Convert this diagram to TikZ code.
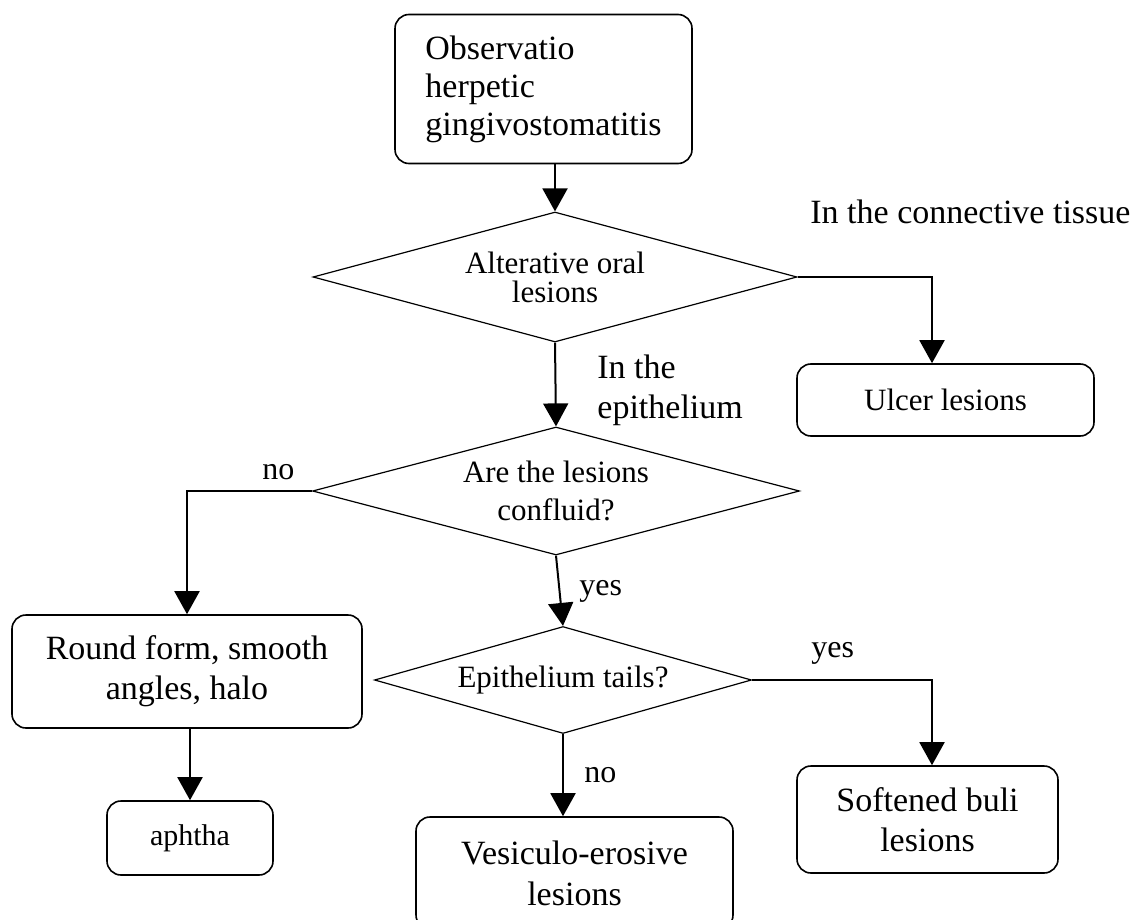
\documentclass[tikz,border=0pt]{standalone}
\usepackage{fontspec}
\setmainfont{Liberation Serif}
\usetikzlibrary{shapes.geometric,arrows.meta}

\begin{document}
\begin{tikzpicture}[x=0.5pt,y=-0.5pt,
	font=\fontsize{16}{19.5}\selectfont,
	stepbox/.style={draw,line width=0.8pt,rounded corners=7pt,inner sep=0pt,align=center},
	decision/.style={draw,diamond,line width=0.6pt,aspect=3.5,inner sep=0pt,align=center},
	lbl/.style={inner sep=0pt},
	flow/.style={line width=1pt,-{Triangle[length=11.5pt,width=12.5pt]}}]
	
	\useasboundingbox (0,0) rectangle (1135,920);
	
	\node[stepbox,align=left,minimum width=148.5pt,minimum height=74.5pt,font=\fontsize{17}{19}\selectfont]
		(obs) at (543.5,89) {Observatio\\herpetic\\gingivostomatitis};
	\node[decision,minimum width=242pt,minimum height=65pt,
		font=\fontsize{15.5}{14.5}\selectfont] (alter) at (555,277) {Alterative oral\\lesions};
	\node[stepbox,minimum width=148.5pt,minimum height=36pt,font=\fontsize{15.5}{19}\selectfont]
		(ulcer) at (945.5,400) {Ulcer lesions};
	\node[decision,minimum width=243.5pt,minimum height=64pt,font=\fontsize{15.5}{19}\selectfont]
		(confl) at (556,491) {Are the lesions\\confluid?};
	\node[stepbox,minimum width=175pt,minimum height=56.5pt,font=\fontsize{17}{20}\selectfont]
		(round) at (187,671.5) {Round form, smooth\\angles, halo};
	\node[decision,minimum width=188.5pt,minimum height=53.5pt,font=\fontsize{15.5}{19}\selectfont]
		(tails) at (563,680) {Epithelium tails?};
	\node[stepbox,minimum width=83pt,minimum height=37pt,font=\fontsize{15}{19}\selectfont]
		(aphtha) at (190,838) {aphtha};
	\node[stepbox,minimum width=130.5pt,minimum height=53.5pt,font=\fontsize{17}{20}\selectfont]
		(soft) at (927.5,819.5) {Softened buli\\lesions};
	\node[stepbox,minimum width=158.5pt,minimum height=56pt,font=\fontsize{17}{20.5}\selectfont]
		(vesic) at (574.5,873) {Vesiculo-erosive\\lesions};
	
	\node[lbl,anchor=base west,font=\fontsize{17}{20}\selectfont] (conn) at (810,223) {In the connective tissue};
	\node[lbl,anchor=north west,align=left,font=\fontsize{17}{20}\selectfont] (epi) at (597,355) {In the\\epithelium};
	\node[lbl,anchor=base west] (noA) at (262,479) {no};
	\node[lbl,anchor=base west] (yesA) at (579,595) {yes};
	\node[lbl,anchor=base west] (yesB) at (811,657) {yes};
	\node[lbl,anchor=base west] (noB) at (584,782) {no};
	
	\coordinate (kneeU) at (932,277);
	\coordinate (kneeS) at (932,680);
	
	\draw[flow] (obs.south -| alter.north) -- (alter.north);
	\draw[flow] (alter.east) -- (kneeU) -- (kneeU |- ulcer.north);
	\draw[flow] (alter.south) -- (confl.north);
	\draw[flow] (confl.west) -| (round.north);
	\draw[flow] (confl.south) -- (tails.north);
	\draw[flow] (tails.east) -- (kneeS) -- (kneeS |- soft.north);
	\draw[flow] (tails.south) -- (tails.south |- vesic.north);
	\draw[flow] (round.south -| aphtha.north) -- (aphtha.north);
\end{tikzpicture}
\end{document}
